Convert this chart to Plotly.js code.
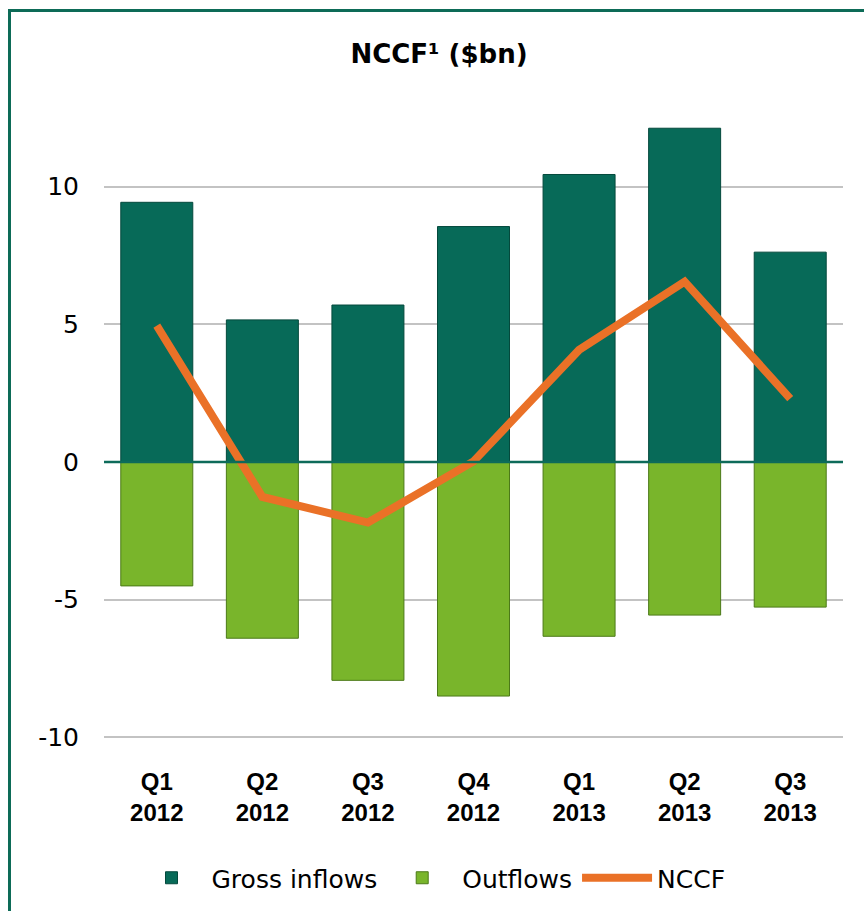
<!DOCTYPE html>
<html>
<head>
<meta charset="utf-8">
<script src="https://cdn.plot.ly/plotly-3.0.1.min.js"></script>
<style>
html,body{margin:0;padding:0;background:#fff;}
#chart{width:864px;height:911px;}
</style>
</head>
<body>
<div id="chart"></div>
<script>
const quarters = ["Q1","Q2","Q3","Q4","Q1","Q2","Q3"];
const years = ["2012","2012","2012","2012","2013","2013","2013"];
const grossInflows = [9.43, 5.16, 5.70, 8.55, 10.44, 12.12, 7.62];
const outflows = [-4.50, -6.40, -7.93, -8.50, -6.33, -5.56, -5.27];
const nccf = [4.95, -1.27, -2.20, 0.02, 4.07, 6.55, 2.30];
const yTicks = [-10, -5, 0, 5, 10];

const categories = quarters.map((q, i) => q + "<br>" + years[i]);

const teal = "#076a58";
const green = "#79b52b";
const orange = "#ea7127";

const traces = [
  {
    type: "bar", name: "Gross inflows", x: categories, y: grossInflows,
    marker: {color: teal, line: {color: "#04493c", width: 1}}
  },
  {
    type: "bar", name: "Outflows", x: categories, y: outflows,
    marker: {color: green, line: {color: "#4c7a18", width: 1}}
  },
  {
    type: "scatter", mode: "lines", name: "NCCF", x: categories, y: nccf,
    line: {color: orange, width: 8}
  }
];

const layout = {
  width: 864, height: 911,
  margin: {l: 104, r: 21, t: 104, b: 171.65, pad: 0, autoexpand: false},
  paper_bgcolor: "#ffffff", plot_bgcolor: "#ffffff",
  barmode: "relative", bargap: 0.318,
  showlegend: true,
  title: {
    text: "NCCF¹ ($bn)",
    font: {family: "DejaVu Sans", size: 26, color: "#000000", weight: "bold"},
    x: 439 / 864, xref: "container", xanchor: "center",
    y: 1 - 54/911, yref: "container", yanchor: "middle"
  },
  xaxis: {
    type: "category",
    showgrid: false, zeroline: false, showline: false,
    ticks: "", ticklabelstandoff: 26,
    tickfont: {family: "Liberation Sans", size: 24, color: "#000000", weight: "bold"}
  },
  yaxis: {
    range: [-10.06, 13],
    tickvals: yTicks, ticktext: yTicks.map(String),
    showgrid: true, gridcolor: "#c3c3c3", gridwidth: 2,
    zeroline: false, showline: false,
    ticks: "", ticklabelstandoff: 24,
    tickfont: {family: "DejaVu Sans", size: 25, color: "#000000"}
  },
  legend: {
    orientation: "h",
    x: 431 / 864, xanchor: "center", xref: "container",
    y: 1 - 878 / 911, yanchor: "middle", yref: "container",
    font: {family: "DejaVu Sans", size: 25, color: "#000000"},
    itemwidth: 70, tracegroupgap: 0,
    bgcolor: "rgba(0,0,0,0)"
  },
  shapes: [
    {
      type: "line", xref: "paper", yref: "y", x0: 0, x1: 1, y0: 0, y1: 0,
      line: {color: "#0d6b5a", width: 2.5}, layer: "above"
    },
    {
      type: "rect", xref: "paper", yref: "paper",
      x0: (9.5 - 104) / 739, x1: 1.3,
      y0: -0.6, y1: (739.35 - 10.5) / 635.35,
      line: {color: "#0d6b57", width: 3}, fillcolor: "rgba(0,0,0,0)", layer: "below"
    }
  ]
};

Plotly.newPlot("chart", traces, layout, {displayModeBar: false, staticPlot: true});
</script>
</body>
</html>
